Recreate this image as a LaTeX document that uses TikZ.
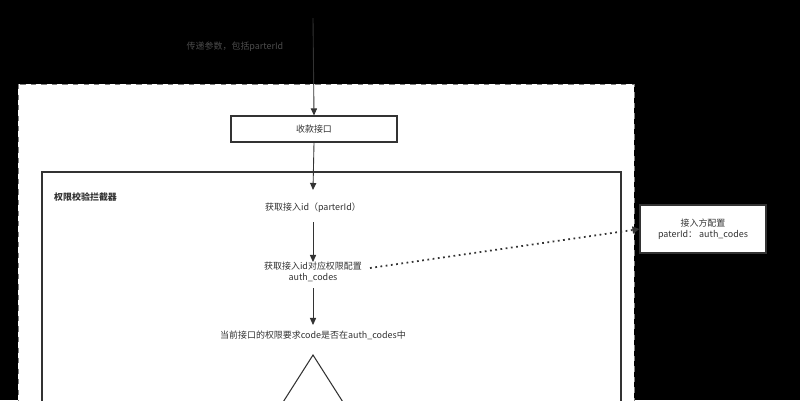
\documentclass[tikz,border=0pt]{standalone}
\usepackage{fontspec}
\setmainfont{Noto Sans CJK SC}
\usetikzlibrary{arrows.meta,positioning}
\tikzset{
  txt/.style={font=\fontsize{5.1}{6.4}\selectfont, text=black!80, align=center},
  flow/.style={draw=black!80, line width=0.5pt, -{Triangle[length=4pt,width=3.5pt]}},
  box/.style={draw=black!80, fill=white, line width=0.6pt}
}
\begin{document}
\begin{tikzpicture}[x=0.02cm,y=-0.02cm]
\useasboundingbox (0,0) rectangle (800,400);
\fill[black] (0,0) rectangle (800,400);
%Rahmen
  \filldraw[fill=white, draw=black!50, dashed, line width=0.4pt] (18,84) rectangle (634,410);
  \draw[black!80, line width=0.6pt] (42,172) rectangle (621,410);
  \node[txt, anchor=west, font=\fontsize{5.1}{6.4}\selectfont\bfseries] (title) at (48,197) {权限校验拦截器};
%Knoten
  \coordinate (start) at (313,18);
  \node[txt, text=black!70] (pass) at (235,47) {传递参数，包括parterId};
  \node[box, txt, minimum width=166*0.02cm, minimum height=26*0.02cm, inner sep=0pt] (recv) at (314,129) {收款接口};
  \node[txt] (getid) at (313,208) {获取接入id（parterId）};
  \node[txt] (getcfg) at (313,272) {获取接入id对应权限配置\\auth\_codes};
  \node[txt] (check) at (313,335) {当前接口的权限要求code是否在auth\_codes中};
  \node[box, txt, minimum width=126*0.02cm, minimum height=48*0.02cm, inner sep=0pt] (conf) at (703,229) {接入方配置\\paterId： auth\_codes};
%Pfeile
  \draw[flow] (start) -- (recv.north);
  \draw[flow] (recv.south) -- (313,190);
  \draw[flow] (313,222) -- (313,262);
  \draw[flow] (313,288) -- (313,325);
  \draw[black!80, line width=1pt, dotted, -{Triangle[length=4pt,width=4pt]}] (getcfg.east) ++(2,-4) -- (conf.west);
%Raute
  \draw[black!80, line width=0.6pt] (278,410) -- (313,355) -- (348,410);
\end{tikzpicture}
\end{document}
